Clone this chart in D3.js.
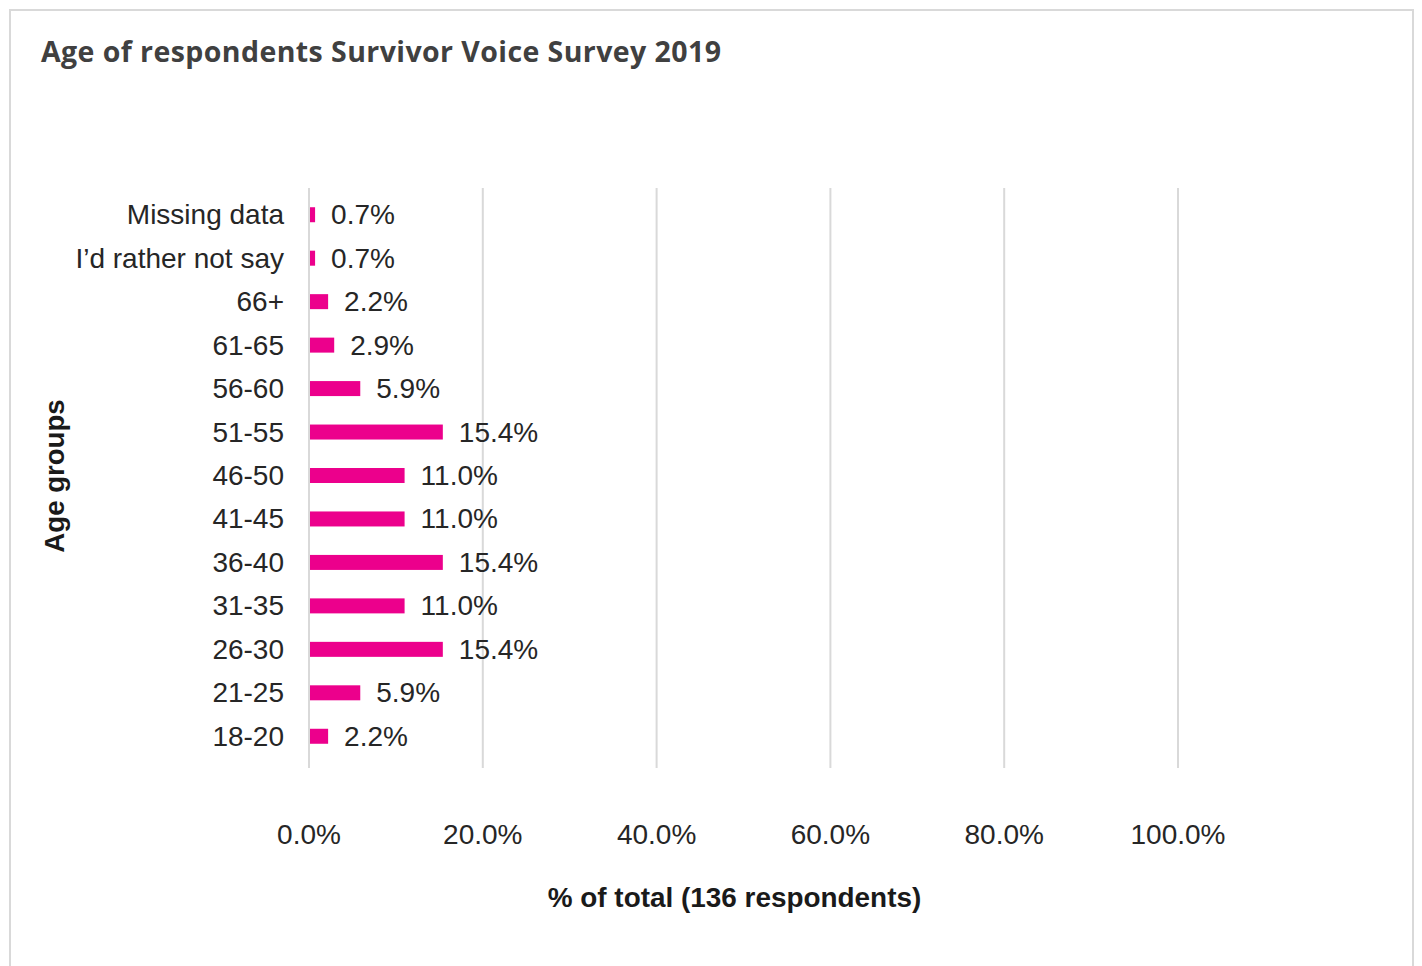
<!DOCTYPE html>
<html>
<head>
<meta charset="utf-8">
<script src="https://cdn.jsdelivr.net/npm/d3@7"></script>
<style>
  html, body { margin: 0; padding: 0; background: #fff; }
  svg { display: block; }
</style>
</head>
<body>
<svg id="chart" width="1422" height="966"></svg>
<script>
// Age groups, top to bottom as shown
const categories = ["Missing data", "I\u2019d rather not say", "66+", "61-65", "56-60", "51-55",
  "46-50", "41-45", "36-40", "31-35", "26-30", "21-25", "18-20"];
// Share of respondents, percent
const values = [0.7, 0.7, 2.2, 2.9, 5.9, 15.4, 11.0, 11.0, 15.4, 11.0, 15.4, 5.9, 2.2];
const tickValues = [0, 20, 40, 60, 80, 100];

const svg = d3.select("#chart");
const sans = "'Liberation Sans', Arial, sans-serif";
const textColor = "#262626";
const gridColor = "#d9d9d9";
const barColor = "#EC008C";
const fs = 28;

// Chart frame
svg.append("rect")
  .attr("x", 10).attr("y", 10)
  .attr("width", 1403).attr("height", 970)
  .attr("fill", "#fff").attr("stroke", gridColor).attr("stroke-width", 2);

// Title
svg.append("text")
  .attr("x", 41).attr("y", 62)
  .attr("font-family", "'Open Sans', sans-serif")
  .attr("font-weight", 700)
  .attr("font-size", 28.5)
  .attr("textLength", 680)
  .attr("lengthAdjust", "spacing")
  .attr("fill", "#404040")
  .text("Age of respondents Survivor Voice Survey 2019");

const x = d3.scaleLinear().domain([0, 100]).range([309, 1178]);
const y = d3.scaleBand().domain(categories).range([193, 758]);
const barH = 15;

// Vertical gridlines
svg.append("g").selectAll("line")
  .data(tickValues)
  .join("line")
  .attr("x1", d => x(d)).attr("x2", d => x(d))
  .attr("y1", 188).attr("y2", 768)
  .attr("stroke", gridColor).attr("stroke-width", 2);

// X axis tick labels
svg.append("g").selectAll("text")
  .data(tickValues)
  .join("text")
  .attr("x", d => x(d)).attr("y", 844)
  .attr("text-anchor", "middle")
  .attr("font-family", sans).attr("font-size", fs)
  .attr("fill", textColor)
  .text(d => d.toFixed(1) + "%");

// Category labels
svg.append("g").selectAll("text")
  .data(categories)
  .join("text")
  .attr("x", 284).attr("y", d => y(d) + y.bandwidth() / 2 + 9.5)
  .attr("text-anchor", "end")
  .attr("font-family", sans).attr("font-size", fs)
  .attr("fill", textColor)
  .text(d => d);

// Bars
svg.append("g").selectAll("rect")
  .data(values)
  .join("rect")
  .attr("x", x(0) + 1)
  .attr("y", (d, i) => y(categories[i]) + y.bandwidth() / 2 - barH / 2)
  .attr("width", d => x(d) - x(0) - 1)
  .attr("height", barH)
  .attr("fill", barColor);

// Value labels
svg.append("g").selectAll("text")
  .data(values)
  .join("text")
  .attr("x", d => x(d) + 16)
  .attr("y", (d, i) => y(categories[i]) + y.bandwidth() / 2 + 9.5)
  .attr("font-family", sans).attr("font-size", fs)
  .attr("fill", textColor)
  .text(d => d.toFixed(1) + "%");

// Axis titles
svg.append("text")
  .attr("x", 734.5).attr("y", 907)
  .attr("text-anchor", "middle")
  .attr("font-family", sans).attr("font-weight", 700).attr("font-size", 27.9)
  .attr("fill", "#1a1a1a")
  .text("% of total (136 respondents)");

svg.append("text")
  .attr("transform", "translate(64,476) rotate(-90)")
  .attr("text-anchor", "middle")
  .attr("font-family", sans).attr("font-weight", 700).attr("font-size", 27.6)
  .attr("fill", "#1a1a1a")
  .text("Age groups");
</script>
</body>
</html>
